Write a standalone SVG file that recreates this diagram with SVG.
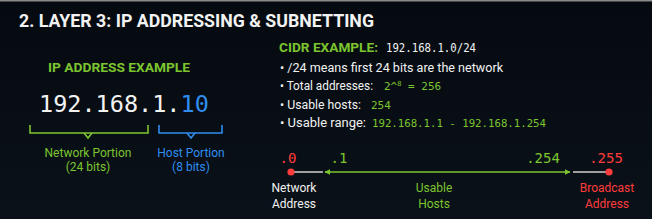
<svg xmlns="http://www.w3.org/2000/svg" width="652" height="219" viewBox="0 0 652 219">
<defs>
<linearGradient id="bg" x1="0" y1="0" x2="0" y2="1">
<stop offset="0" stop-color="#050a10"/>
<stop offset="1" stop-color="#0a1118"/>
</linearGradient>
<marker id="ah" viewBox="0 0 10 10" refX="9" refY="5" markerWidth="6" markerHeight="6" orient="auto-start-reverse" markerUnits="userSpaceOnUse">
<path d="M0,0 L10,5 L0,10 z" fill="#7cc52f"/>
</marker>
<style>
.sans{font-family:Roboto,"Liberation Sans",sans-serif}
.mono{font-family:"DejaVu Sans Mono","Liberation Mono",monospace}
.g{fill:#7cc52f}.b{fill:#2f8df0}.r{fill:#ff3c3c}.w{fill:#f2f2f2}
.brk{fill:none;stroke-width:1.6}
</style>
</defs>
<rect width="652" height="219" fill="url(#bg)"/>
<rect width="652" height="1.5" fill="#8a8a8a"/>
<g id="title">
<text x="19" y="27" class="sans w" font-weight="bold" font-size="18" textLength="355" lengthAdjust="spacingAndGlyphs">2. LAYER 3: IP ADDRESSING &amp; SUBNETTING</text>
</g>
<g id="ip-example">
<text x="119" y="72" class="sans g" font-weight="bold" font-size="12.5" text-anchor="middle" textLength="142" lengthAdjust="spacingAndGlyphs">IP ADDRESS EXAMPLE</text>
<text x="39" y="112" class="mono w" font-size="23.5">192.168.1.</text>
<text x="180.5" y="112" class="mono b" font-size="23.5">10</text>
</g>
<g id="network-portion">
<path class="brk" stroke="#7cc52f" d="M30,125 V133 H148 V125"/>
<path class="brk" stroke="#7cc52f" d="M84,133 L88,138 L92,133"/>
<text x="88" y="157" class="sans g" font-size="12" text-anchor="middle">Network Portion</text>
<text x="88" y="171" class="sans g" font-size="12" text-anchor="middle">(24 bits)</text>
</g>
<g id="host-portion">
<path class="brk" stroke="#2f8df0" d="M159,125 V133 H222 V125"/>
<path class="brk" stroke="#2f8df0" d="M187,133 L191,138 L195,133"/>
<text x="191" y="157" class="sans b" font-size="12" text-anchor="middle">Host Portion</text>
<text x="191" y="171" class="sans b" font-size="12" text-anchor="middle">(8 bits)</text>
</g>
<g id="cidr">
<text x="279" y="52" class="sans g" font-weight="bold" font-size="13" textLength="99" lengthAdjust="spacingAndGlyphs">CIDR EXAMPLE:</text>
<text x="386" y="52" class="mono w" font-size="11.5" textLength="90" lengthAdjust="spacingAndGlyphs">192.168.1.0/24</text>
<text x="280" y="72" class="sans w" font-size="12" textLength="223" lengthAdjust="spacingAndGlyphs">• /24 means first 24 bits are the network</text>
<text x="280" y="90" class="sans w" font-size="12" textLength="93" lengthAdjust="spacingAndGlyphs">• Total addresses:</text>
<text x="384" y="90" class="mono g" font-size="11">2^<tspan font-size="7" dy="-4">8</tspan><tspan dy="4"> = 256</tspan></text>
<text x="280" y="109" class="sans w" font-size="12" textLength="81" lengthAdjust="spacingAndGlyphs">• Usable hosts:</text>
<text x="371" y="109" class="mono g" font-size="11">254</text>
<text x="280" y="127" class="sans w" font-size="12" textLength="86" lengthAdjust="spacingAndGlyphs">• Usable range:</text>
<text x="372" y="127" class="mono g" font-size="11" textLength="174" lengthAdjust="spacingAndGlyphs">192.168.1.1 - 192.168.1.254</text>
</g>
<g id="connectors">
<line x1="291" y1="172" x2="323" y2="172" stroke="#cfcfcf" stroke-width="1.5"/>
<line x1="325" y1="172" x2="570" y2="172" stroke="#7cc52f" stroke-width="1.6" marker-start="url(#ah)" marker-end="url(#ah)"/>
<line x1="573" y1="172" x2="609" y2="172" stroke="#cfcfcf" stroke-width="1.5"/>
</g>
<g id="network-address">
<circle cx="291" cy="172" r="3.6" fill="#ff3c3c"/>
<text x="288" y="163" class="mono r" font-size="14" text-anchor="middle">.0</text>
<text x="294" y="192" class="sans w" font-size="12" text-anchor="middle">Network</text>
<text x="294" y="208" class="sans w" font-size="12" text-anchor="middle">Address</text>
</g>
<g id="usable-hosts">
<text x="339" y="163" class="mono g" font-size="14" text-anchor="middle">.1</text>
<text x="543" y="163" class="mono g" font-size="14" text-anchor="middle">.254</text>
<text x="434" y="192" class="sans g" font-size="12" text-anchor="middle">Usable</text>
<text x="434" y="208" class="sans g" font-size="12" text-anchor="middle">Hosts</text>
</g>
<g id="broadcast-address">
<circle cx="609" cy="172" r="3.6" fill="#ff3c3c"/>
<text x="606" y="163" class="mono r" font-size="14" text-anchor="middle">.255</text>
<text x="607" y="192" class="sans r" font-size="12" text-anchor="middle">Broadcast</text>
<text x="607" y="208" class="sans r" font-size="12" text-anchor="middle">Address</text>
</g>
</svg>
